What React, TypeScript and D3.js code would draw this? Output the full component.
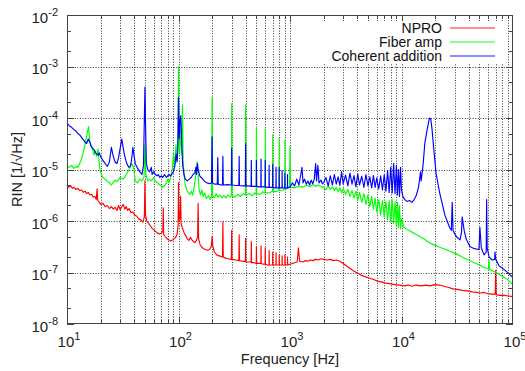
import React, { useEffect, useRef } from 'react';
import * as d3 from 'd3';

// [frequency Hz, RIN 1/sqrt(Hz)]
const npro: [number, number][] = [
  [10, 5.0e-6], [10.4, 4.5e-6], [10.8, 4.8e-6], [11.2, 4.3e-6], [11.6, 4.5e-6], [12, 4.1e-6], [12.5, 4.3e-6],
  [13, 3.9e-6], [13.5, 4.0e-6], [14, 3.6e-6], [14.5, 3.8e-6], [15, 3.4e-6], [15.5, 3.6e-6], [16, 3.2e-6],
  [16.6, 3.3e-6], [17.2, 2.9e-6], [17.8, 3.0e-6], [18.3, 2.6e-6], [18.6, 4.2e-6], [18.9, 2.5e-6], [19.5, 2.3e-6],
  [20, 2.1e-6], [21, 2.2e-6], [22, 1.9e-6], [23, 2.0e-6], [24, 1.75e-6], [25, 1.9e-6], [26, 1.7e-6],
  [27, 1.85e-6], [28, 1.6e-6], [29, 2.0e-6], [30, 1.65e-6], [31, 1.9e-6], [32, 2.1e-6], [33, 1.7e-6],
  [34, 1.9e-6], [35, 1.6e-6], [36, 1.75e-6], [37.5, 1.45e-6], [39, 1.5e-6], [40.5, 1.3e-6], [42, 1.25e-6],
  [44, 1.1e-6], [46, 1.05e-6], [48, 0.95e-6], [49.4, 1.2e-6], [50, 6.0e-6], [50.6, 1.3e-6], [52, 1.0e-6],
  [54, 0.9e-6], [56, 0.8e-6], [58, 0.72e-6], [61, 0.65e-6], [64, 0.6e-6], [67, 0.56e-6], [70, 0.58e-6],
  [72.4, 0.62e-6], [73, 1.8e-6], [73.6, 0.55e-6], [76, 0.5e-6], [79, 0.45e-6], [82, 0.43e-6], [85, 0.41e-6],
  [88, 0.42e-6], [91, 0.45e-6], [94, 0.48e-6], [97, 0.55e-6], [99.2, 0.8e-6], [100, 5.5e-6], [100.8, 1.0e-6],
  [102, 1.6e-6], [103.5, 1.1e-6], [104.5, 3.0e-6], [105.5, 0.9e-6], [108, 0.75e-6], [112, 0.6e-6],
  [116, 0.52e-6], [120, 0.45e-6], [124, 0.42e-6], [128, 0.48e-6], [132, 0.43e-6], [136, 0.4e-6],
  [140, 0.38e-6], [145, 0.42e-6], [148.5, 0.5e-6], [150, 2.2e-6], [151.5, 0.45e-6], [156, 0.35e-6],
  [162, 0.31e-6], [168, 0.29e-6], [175, 0.28e-6], [182, 0.27e-6], [190, 0.28e-6], [197, 0.32e-6],
  [200, 0.5e-6], [203, 0.33e-6], [210, 0.25e-6], [220, 0.22e-6], [232, 0.21e-6], [248, 0.2e-6],
  [250, 0.95e-6], [252, 0.2e-6], [265, 0.19e-6], [280, 0.185e-6], [298, 0.18e-6], [300, 0.66e-6],
  [302, 0.18e-6], [325, 0.175e-6], [348, 0.17e-6], [350, 0.54e-6], [352, 0.17e-6], [375, 0.165e-6],
  [398, 0.165e-6], [400, 0.46e-6], [402, 0.16e-6], [425, 0.16e-6], [448, 0.16e-6], [450, 0.4e-6],
  [452, 0.155e-6], [475, 0.155e-6], [498, 0.15e-6], [500, 0.32e-6], [502, 0.15e-6], [525, 0.15e-6],
  [548, 0.15e-6], [550, 0.33e-6], [552, 0.15e-6], [575, 0.145e-6], [598, 0.145e-6], [600, 0.3e-6],
  [602, 0.145e-6], [625, 0.14e-6], [648, 0.14e-6], [650, 0.27e-6], [652, 0.14e-6], [698, 0.14e-6],
  [700, 0.25e-6], [702, 0.14e-6], [748, 0.14e-6], [750, 0.24e-6], [752, 0.14e-6], [798, 0.14e-6],
  [800, 0.22e-6], [802, 0.14e-6], [848, 0.14e-6], [850, 0.21e-6], [852, 0.14e-6], [898, 0.14e-6],
  [900, 0.22e-6], [902, 0.14e-6], [948, 0.14e-6], [950, 0.2e-6], [952, 0.14e-6], [1000, 0.145e-6],
  [1050, 0.15e-6], [1100, 0.155e-6], [1160, 0.16e-6], [1190, 0.3e-6], [1220, 0.165e-6], [1300, 0.16e-6],
  [1380, 0.17e-6], [1450, 0.165e-6], [1530, 0.175e-6], [1600, 0.17e-6], [1700, 0.18e-6], [1800, 0.175e-6],
  [1900, 0.185e-6], [2000, 0.18e-6], [2150, 0.175e-6], [2300, 0.18e-6], [2450, 0.17e-6], [2600, 0.175e-6],
  [2800, 0.165e-6], [3000, 0.15e-6], [3200, 0.135e-6], [3450, 0.12e-6], [3700, 0.108e-6], [4000, 0.098e-6],
  [4300, 0.09e-6], [4700, 0.083e-6], [5100, 0.078e-6], [5600, 0.073e-6], [6100, 0.068e-6], [6700, 0.065e-6],
  [7300, 0.062e-6], [8000, 0.06e-6], [8800, 0.058e-6], [9600, 0.057e-6], [10500, 0.055e-6], [11500, 0.057e-6],
  [12500, 0.054e-6], [13500, 0.057e-6], [15000, 0.055e-6], [16500, 0.057e-6], [18000, 0.055e-6],
  [20000, 0.058e-6], [22000, 0.057e-6], [24000, 0.054e-6], [26500, 0.051e-6], [29000, 0.048e-6],
  [32000, 0.047e-6], [35000, 0.045e-6], [39000, 0.044e-6], [43000, 0.042e-6], [47000, 0.041e-6],
  [51000, 0.04e-6], [55000, 0.041e-6], [59000, 0.039e-6], [64000, 0.038e-6], [69300, 0.038e-6],
  [70000, 0.11e-6], [70700, 0.037e-6], [76000, 0.036e-6], [83000, 0.036e-6], [91000, 0.035e-6],
  [100000, 0.034e-6],
];

const fiberAmp: [number, number][] = [
  [10, 1.2e-5], [10.5, 1.1e-5], [11, 1.2e-5], [11.5, 1.05e-5], [12, 1.15e-5], [12.5, 1.1e-5], [13, 1.3e-5],
  [13.5, 1.6e-5], [14, 2.2e-5], [14.5, 3.0e-5], [15, 4.5e-5], [15.6, 6.8e-5], [16, 3.5e-5], [16.5, 2.8e-5],
  [17, 2.4e-5], [17.5, 1.9e-5], [18, 2.3e-5], [18.5, 1.8e-5], [19, 2.5e-5], [19.5, 1.2e-5], [20, 9e-6],
  [21, 7e-6], [22, 6.5e-6], [23, 5.8e-6], [24, 5.5e-6], [25, 5.0e-6], [26, 5.6e-6], [27, 6.2e-6],
  [28, 5.8e-6], [30, 7e-6], [32, 6.5e-6], [34, 8e-6], [36, 1.0e-5], [38, 1.3e-5], [39.5, 1.1e-5],
  [41, 6e-6], [43, 5.5e-6], [45, 6.5e-6], [47, 6e-6], [49, 7e-6], [50, 3e-5], [51, 8e-6], [53, 6e-6],
  [55, 6.5e-6], [57, 6e-6], [60, 7e-6], [62, 6e-6], [65, 5.5e-6], [68, 5e-6], [70, 4.8e-6], [72, 4.6e-6],
  [75, 4.8e-6], [78, 5.5e-6], [80, 6.5e-6], [82, 5.5e-6], [85, 7e-6], [88, 1.0e-5], [90, 2e-5], [92, 1.2e-5],
  [95, 3e-5], [97, 1.5e-5], [99, 4e-5], [100, 1.0e-3], [101.5, 2e-5], [104, 6e-5], [106, 2e-5],
  [108.5, 1.8e-4], [110, 1.5e-5], [112, 8e-6], [115, 5e-6], [118, 4.2e-6], [122, 3.6e-6], [126, 3.3e-6],
  [130, 3.8e-6], [134, 3.2e-6], [138, 4.5e-6], [142, 7e-6], [145, 1.1e-5], [147, 1.4e-5], [150, 8e-6],
  [153, 4.2e-6], [157, 3.2e-6], [162, 4e-6], [166, 3e-6], [172, 3.5e-6], [178, 2.7e-6], [185, 3.1e-6],
  [192, 2.6e-6], [198, 3e-6], [200, 2.5e-4], [202, 3.2e-6], [210, 2.8e-6], [218, 3.4e-6], [226, 2.9e-6],
  [235, 3.2e-6], [245, 2.8e-6], [255, 3.1e-6], [265, 2.8e-6], [280, 3.2e-6], [290, 2.9e-6], [298, 3.1e-6],
  [300, 1.9e-4], [302, 3.1e-6], [320, 2.9e-6], [340, 3.3e-6], [360, 3e-6], [380, 3.4e-6], [398, 3.2e-6],
  [400, 1.8e-4], [402, 3.2e-6], [430, 3.4e-6], [460, 3.1e-6], [480, 3.5e-6], [498, 3.3e-6], [500, 6.7e-5],
  [502, 3.4e-6], [540, 3.3e-6], [570, 3.7e-6], [598, 3.5e-6], [600, 6e-5], [602, 3.6e-6], [650, 3.5e-6],
  [698, 3.8e-6], [700, 4.7e-5], [702, 3.8e-6], [750, 3.7e-6], [798, 4e-6], [800, 4e-5], [802, 4e-6],
  [850, 3.9e-6], [898, 4.2e-6], [900, 3.7e-5], [902, 4.2e-6], [950, 4.3e-6], [990, 4.5e-6], [1000, 2.8e-5],
  [1010, 4.5e-6], [1100, 4.4e-6], [1200, 4.8e-6], [1300, 4.5e-6], [1400, 5e-6], [1500, 4.6e-6],
  [1600, 5.1e-6], [1700, 4.7e-6], [1800, 5e-6], [1900, 4.6e-6],
  [2000, 4.6e-6], [2100, 4.0e-6], [2200, 4.8e-6], [2300, 4.1e-6], [2400, 4.6e-6], [2500, 3.9e-6],
  [2600, 4.5e-6], [2700, 3.7e-6], [2800, 4.4e-6], [2900, 3.5e-6], [3000, 4.3e-6], [3150, 3.3e-6],
  [3300, 4.1e-6], [3450, 3.0e-6], [3600, 3.9e-6], [3750, 2.8e-6], [3900, 3.8e-6], [4050, 2.5e-6],
  [4200, 3.6e-6], [4400, 2.3e-6], [4600, 3.4e-6], [4800, 2.1e-6], [5000, 3.2e-6], [5200, 1.9e-6],
  [5400, 3.0e-6], [5600, 1.7e-6], [5800, 2.8e-6], [6000, 1.5e-6], [6250, 2.6e-6], [6500, 1.3e-6],
  [6750, 2.5e-6], [7000, 1.2e-6], [7250, 2.4e-6], [7500, 1.05e-6], [7750, 2.5e-6], [8000, 0.95e-6],
  [8250, 2.6e-6], [8500, 0.9e-6], [8750, 2.4e-6], [9000, 0.8e-6], [9200, 2.3e-6], [9400, 0.75e-6],
  [9600, 2.0e-6], [9800, 0.7e-6], [10000, 1.1e-6], [10500, 0.76e-6], [11000, 0.7e-6], [12000, 0.64e-6],
  [13000, 0.57e-6], [14000, 0.53e-6], [15000, 0.48e-6], [16000, 0.45e-6], [17000, 0.4e-6], [18500, 0.36e-6],
  [20000, 0.34e-6], [22000, 0.31e-6], [25000, 0.28e-6], [28000, 0.25e-6], [31000, 0.23e-6], [35000, 0.2e-6],
  [40000, 0.175e-6], [45000, 0.155e-6], [50000, 0.14e-6], [55000, 0.125e-6], [60300, 0.118e-6],
  [61000, 0.175e-6], [61700, 0.115e-6], [70000, 0.1e-6], [80000, 0.085e-6], [90000, 0.072e-6],
  [100000, 0.058e-6],
];

const coherent: [number, number][] = [
  [10, 8e-5], [10.5, 7e-5], [11, 6.6e-5], [11.5, 6e-5], [12, 5.6e-5], [12.5, 5e-5], [13, 4.7e-5],
  [13.5, 4.2e-5], [14, 3.8e-5], [14.5, 3.4e-5], [15, 3.2e-5], [15.5, 3.9e-5], [16, 3.4e-5], [16.5, 2.8e-5],
  [17, 2.6e-5], [17.5, 2.4e-5], [18, 2.1e-5], [18.5, 2e-5], [19, 1.9e-5], [19.5, 2.1e-5], [20, 1.8e-5],
  [21, 1.5e-5], [22, 1.3e-5], [23, 1.15e-5], [24, 1.4e-5], [25, 2.7e-5], [26, 1.8e-5], [27, 1.4e-5],
  [28, 1.3e-5], [29, 1.7e-5], [30, 2.6e-5], [31, 3.9e-5], [32, 2.5e-5], [33, 1.8e-5], [34, 1.4e-5],
  [35, 1.2e-5], [36, 1.1e-5], [37, 1.15e-5], [38, 1.6e-5], [39, 2.7e-5], [40, 1.8e-5], [41, 1.3e-5],
  [43, 1.05e-5], [45, 9e-6], [47, 8e-6], [48.5, 1.2e-5], [49.5, 1.2e-4], [50, 4e-4], [50.5, 1e-4],
  [51.5, 1.3e-5], [53, 1e-5], [55, 9e-6], [57, 1.1e-5], [58, 8e-6], [60, 9e-6], [62, 8e-6], [64, 7.5e-6],
  [66, 8e-6], [68, 7e-6], [70, 7.5e-6], [72, 7e-6], [75, 8e-6], [78, 7e-6], [80, 7.5e-6], [82, 8e-6],
  [85, 7.5e-6], [88, 8.5e-6], [90, 9e-6], [93, 1.2e-5], [95, 2e-5], [97, 1.4e-5], [98.5, 2.5e-5],
  [100, 2.5e-4], [101.5, 4e-5], [103, 8e-5], [104.5, 1.1e-4], [106, 6e-5], [107.5, 2.5e-5], [109, 1.2e-5],
  [112, 8e-6], [115, 6.5e-6], [120, 6e-6], [125, 6.5e-6], [130, 7e-6], [135, 8e-6], [140, 8.5e-6],
  [143, 1.1e-5], [145, 8e-6], [148, 1.3e-5], [150, 1.0e-5], [155, 7.5e-6], [160, 7e-6], [170, 6e-6],
  [180, 5.5e-6], [190, 5.3e-6], [198, 5.5e-6], [200, 4.3e-5], [202, 5.5e-6], [210, 5.2e-6], [223, 5.2e-6],
  [225, 1.7e-5], [227, 5.2e-6], [240, 5e-6], [248, 5e-6], [250, 1.8e-5], [252, 5e-6], [275, 5.1e-6],
  [298, 5e-6], [300, 2.6e-5], [302, 5e-6], [325, 4.9e-6], [348, 4.9e-6], [350, 1.8e-5], [352, 4.9e-6],
  [375, 4.8e-6], [398, 4.8e-6], [400, 3.2e-5], [402, 4.8e-6], [425, 4.8e-6], [448, 4.7e-6], [450, 1.5e-5],
  [452, 4.7e-6], [475, 4.7e-6], [498, 4.7e-6], [500, 1.5e-5], [502, 4.7e-6], [525, 4.6e-6], [548, 4.6e-6],
  [550, 1.6e-5], [552, 4.6e-6], [575, 4.6e-6], [598, 4.6e-6], [600, 1.5e-5], [602, 4.6e-6], [625, 4.5e-6],
  [648, 4.5e-6], [650, 1.2e-5], [652, 4.5e-6], [675, 4.5e-6], [698, 4.5e-6], [700, 1.25e-5], [702, 4.5e-6],
  [725, 4.4e-6], [748, 4.4e-6], [750, 1.1e-5], [752, 4.4e-6], [775, 4.4e-6], [798, 4.4e-6], [800, 1.1e-5],
  [802, 4.4e-6], [825, 4.4e-6], [848, 4.4e-6], [850, 9.5e-6], [852, 4.4e-6], [875, 4.4e-6], [898, 4.4e-6],
  [900, 8.5e-6], [902, 4.4e-6], [925, 4.4e-6], [948, 4.4e-6], [950, 8e-6], [952, 4.4e-6], [975, 4.5e-6],
  [1000, 4.5e-6], [1050, 5.5e-6], [1100, 4.8e-6], [1150, 6.5e-6], [1200, 5e-6], [1250, 8e-6], [1280, 1.1e-5],
  [1310, 5.5e-6], [1350, 6.5e-6], [1400, 5.2e-6], [1450, 6e-6], [1500, 5e-6], [1550, 6.2e-6], [1600, 5.3e-6],
  [1650, 6.5e-6], [1700, 1.3e-5], [1730, 6e-6], [1780, 1.2e-5], [1820, 5.5e-6], [1900, 6.2e-6], [1950, 5.3e-6],
  [2000, 5.5e-6], [2100, 7.0e-6], [2200, 4.8e-6], [2300, 7.5e-6], [2400, 5.0e-6], [2500, 8.0e-6],
  [2600, 5.2e-6], [2700, 7.2e-6], [2800, 4.9e-6], [2900, 9.0e-6], [3000, 5.3e-6], [3150, 7.8e-6],
  [3300, 4.8e-6], [3450, 8.5e-6], [3600, 5.2e-6], [3750, 7.6e-6], [3900, 4.6e-6], [4050, 8.2e-6],
  [4200, 5.0e-6], [4400, 7.4e-6], [4600, 4.5e-6], [4800, 8.0e-6], [5000, 4.8e-6], [5200, 7.2e-6],
  [5400, 4.4e-6], [5600, 7.6e-6], [5800, 4.5e-6], [6000, 6.9e-6], [6250, 4.2e-6], [6500, 7.5e-6],
  [6750, 4.0e-6], [7000, 8.0e-6], [7250, 3.8e-6], [7500, 9.5e-6], [7750, 3.6e-6], [8000, 1.1e-5],
  [8250, 3.5e-6], [8500, 1.3e-5], [8750, 3.4e-6], [9000, 1.2e-5], [9200, 3.2e-6], [9400, 1.0e-5],
  [9600, 3.0e-6], [9800, 1.1e-5], [10000, 4.0e-6], [10300, 3.0e-6], [10700, 2.6e-6], [11200, 2.4e-6],
  [11800, 2.5e-6], [12400, 2.3e-6], [13000, 2.6e-6], [13600, 3.2e-6], [14200, 4.5e-6], [14600, 7e-6],
  [14800, 9e-6], [15000, 6e-6], [15600, 1.2e-5], [16200, 3.3e-5], [17000, 6e-5], [17800, 1e-4],
  [18300, 9.5e-5], [18800, 6e-5], [19400, 2.7e-5], [20400, 8.5e-6], [22000, 3.5e-6], [24500, 1.3e-6],
  [27000, 7.5e-7], [28000, 6.6e-7], [28500, 2.3e-6], [29000, 6.5e-7], [31000, 5e-7], [33500, 4.3e-7],
  [34500, 6e-7], [35000, 1.2e-6], [36500, 6.5e-7], [38000, 4.5e-7], [41000, 3.2e-7], [45000, 2.9e-7],
  [49500, 2.8e-7], [50500, 7.5e-7], [52000, 3e-7], [55000, 2.2e-7], [57500, 2.5e-7], [58000, 2.6e-6],
  [58700, 3e-7], [61000, 2e-7], [65000, 1.75e-7], [68500, 1.8e-7], [69000, 2.5e-7], [70000, 1.8e-7],
  [75000, 1.35e-7], [85000, 1.1e-7], [100000, 8e-8],
];

const xTickExps = [1, 2, 3, 4, 5];
const yTickExps = [-2, -3, -4, -5, -6, -7, -8];
const legendLabels = ['NPRO', 'Fiber amp', 'Coherent addition'];
const seriesColors = ['#ff0000', '#00ff00', '#0000ff'];

const App = () => {
  const svgRef = useRef(null);

  useEffect(() => {
    const svg = d3.select(svgRef.current);
    svg.selectAll('*').remove();

    const left = 67, right = 513, top = 15, bottom = 324;
    const font = 'Liberation Sans, Arial, sans-serif';

    const x = d3.scaleLog().domain([10, 1e5]).range([left, right]);
    const y = d3.scaleLog().domain([1e-8, 1e-2]).range([bottom, top]);

    // grid: vertical at every x tick, horizontal at decades
    const xGrid: number[] = [];
    for (let e = 1; e < 5; e++) {
      for (let m = 1; m <= 9; m++) {
        const v = m * Math.pow(10, e);
        if (v > 10) xGrid.push(v);
      }
    }
    const grid = svg.append('g')
      .attr('stroke', '#222')
      .attr('stroke-width', 0.9)
      .attr('stroke-dasharray', '1,1.6');
    grid.selectAll('line.v').data(xGrid).enter().append('line')
      .attr('x1', d => Math.round(x(d)) + 0.5).attr('x2', d => Math.round(x(d)) + 0.5)
      .attr('y1', top).attr('y2', bottom);
    grid.selectAll('line.h').data(yTickExps.slice(1, -1)).enter().append('line')
      .attr('x1', left).attr('x2', right)
      .attr('y1', d => Math.round(y(Math.pow(10, d))) + 0.5)
      .attr('y2', d => Math.round(y(Math.pow(10, d))) + 0.5);

    // data
    const line = d3.line<[number, number]>()
      .x(d => x(d[0]))
      .y(d => y(d[1]));
    [npro, fiberAmp, coherent].forEach((s, i) => {
      svg.append('path')
        .datum(s)
        .attr('d', line)
        .attr('fill', 'none')
        .attr('stroke', seriesColors[i])
        .attr('stroke-width', 1.15)
        .attr('stroke-linejoin', 'round');
    });

    // ticks
    const ticks = svg.append('g').attr('stroke', '#444').attr('stroke-width', 1);
    const yMinor: number[] = [];
    yTickExps.forEach(e => {
      if (e > -8) {
        yMinor.push(2 * Math.pow(10, e - 1));
        yMinor.push(5 * Math.pow(10, e - 1));
      }
    });
    yTickExps.forEach(e => {
      const yy = Math.round(y(Math.pow(10, e))) + 0.5;
      ticks.append('line').attr('x1', left).attr('x2', left + 7).attr('y1', yy).attr('y2', yy);
      ticks.append('line').attr('x1', right).attr('x2', right - 7).attr('y1', yy).attr('y2', yy);
    });
    yMinor.forEach(v => {
      const yy = Math.round(y(v)) + 0.5;
      ticks.append('line').attr('x1', left).attr('x2', left + 4).attr('y1', yy).attr('y2', yy);
      ticks.append('line').attr('x1', right).attr('x2', right - 4).attr('y1', yy).attr('y2', yy);
    });
    xGrid.forEach(v => {
      const xx = Math.round(x(v)) + 0.5;
      const major = Math.abs(Math.log10(v) - Math.round(Math.log10(v))) < 1e-6;
      const len = major ? 7 : 4;
      ticks.append('line').attr('x1', xx).attr('x2', xx).attr('y1', top).attr('y2', top + len);
      ticks.append('line').attr('x1', xx).attr('x2', xx).attr('y1', bottom).attr('y2', bottom - len);
    });

    // legend with opaque background
    svg.append('rect')
      .attr('x', 320).attr('y', 21).attr('width', 187).attr('height', 43)
      .attr('fill', '#fff');
    legendLabels.forEach((lab, i) => {
      const by = 32.5 + i * 14;
      svg.append('text')
        .attr('x', 442).attr('y', by)
        .attr('text-anchor', 'end')
        .attr('font-family', font)
        .attr('font-size', 14)
        .attr('fill', '#111')
        .text(lab);
      svg.append('line')
        .attr('x1', 450).attr('x2', 495)
        .attr('y1', by - 4.5).attr('y2', by - 4.5)
        .attr('stroke', seriesColors[i])
        .attr('stroke-opacity', 0.6)
        .attr('stroke-width', 1.5);
    });

    // frame
    svg.append('rect')
      .attr('x', left + 0.5).attr('y', top + 0.5)
      .attr('width', right - left - 1).attr('height', bottom - top - 1)
      .attr('fill', 'none')
      .attr('stroke', '#444')
      .attr('stroke-width', 1);

    // tick labels
    yTickExps.forEach(e => {
      const t = svg.append('text')
        .attr('x', 58).attr('y', y(Math.pow(10, e)) + 7.5)
        .attr('text-anchor', 'end')
        .attr('font-family', font)
        .attr('font-size', 15)
        .attr('fill', '#222');
      t.append('tspan').text('10');
      t.append('tspan').attr('dy', -7).attr('font-size', 11).text(String(e));
    });
    xTickExps.forEach(e => {
      const t = svg.append('text')
        .attr('x', x(Math.pow(10, e)) + 2).attr('y', 347)
        .attr('text-anchor', 'middle')
        .attr('font-family', font)
        .attr('font-size', 15)
        .attr('fill', '#222');
      t.append('tspan').text('10');
      t.append('tspan').attr('dy', -7).attr('font-size', 11).text(String(e));
    });

    // axis titles
    svg.append('text')
      .attr('x', 290).attr('y', 364)
      .attr('text-anchor', 'middle')
      .attr('font-family', font)
      .attr('font-size', 14.5)
      .attr('fill', '#222')
      .text('Frequency [Hz]');
    svg.append('text')
      .attr('transform', `translate(22,${(top + bottom) / 2}) rotate(-90)`)
      .attr('text-anchor', 'middle')
      .attr('font-family', font)
      .attr('font-size', 14.5)
      .attr('fill', '#222')
      .text('RIN [1/\u221AHz]');
  }, []);

  return (
    <svg
      ref={svgRef}
      width={525}
      height={371}
      style={{ position: 'absolute', left: 0, top: 0, background: '#fff' }}
    />
  );
};

export default App;
